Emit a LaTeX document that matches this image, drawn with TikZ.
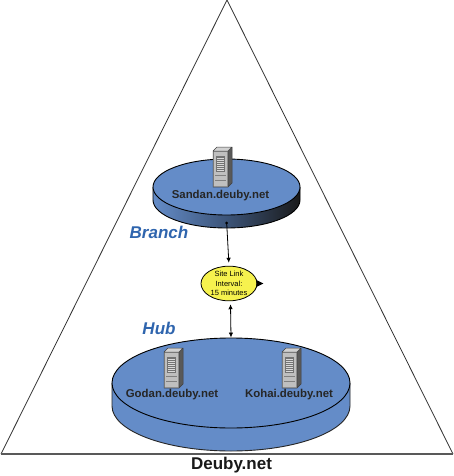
\documentclass[tikz,border=0pt]{standalone}
\usepackage{fontspec}
\setmainfont{Liberation Sans}
\usetikzlibrary{shapes.geometric,arrows.meta}
\definecolor{diskblue}{HTML}{648CC8}
\definecolor{labelblue}{HTML}{2F65AE}
\definecolor{linkyellow}{HTML}{F6F24E}
\tikzset{
  disktop/.style={ellipse,draw=black,line width=.9pt,fill=diskblue,inner sep=0pt},
  hostlabel/.style={font=\bfseries\fontsize{11.4}{12}\selectfont,text=black!85,inner sep=0pt},
  tierlabel/.style={font=\bfseries\itshape\fontsize{17}{18}\selectfont,text=labelblue,inner sep=0pt},
  link/.style={draw=black,line width=.8pt},
}
\newcommand{\serverbox}[2]{%
  \begin{scope}[shift={(#1,#2)}]
    \fill[black!65] (15,4) -- (19,0) -- (19,36) -- (15,40) -- cycle;
    \fill[black!18] (0,4) -- (4,0) -- (19,0) -- (15,4) -- cycle;
    \fill[black!40] (0,4) rectangle (15,40);
    \fill[black!25] (1,5) rectangle (14,39);
    \fill[black!55] (3,9) rectangle (12,25);
    \foreach \yy in {11,13,...,23} \draw[white!85!black,line width=.5pt] (4,\yy) -- (11,\yy);
    \draw[black!50,line width=.4pt] (2,28) -- (13,28) (2,33) -- (13,33);
    \draw[black!75,line width=.5pt] (0,4) -- (4,0) -- (19,0) -- (19,36) -- (15,40) -- (0,40) -- cycle (0,4) -- (15,4) -- (15,40) (15,4) -- (19,0);
  \end{scope}}
\begin{document}
\begin{tikzpicture}[x=1pt,y=-1pt]
\useasboundingbox (0,0) rectangle (454,476);
\fill[white] (0,0) rectangle (454,476);
\coordinate (apex) at (227,0);
\coordinate (bl) at (1,454);
\coordinate (br) at (453,454);
\draw[black!80,line width=.8pt] (bl) -- (apex) -- (br);
\draw[black!65,line width=1.2pt] (bl) -- (br);
% Branch disk
\shade[left color=diskblue,right color=black!90,middle color=black!40!diskblue]
  (153,187) -- (153,200) arc[start angle=180,end angle=0,x radius=73.5,y radius=28] -- (300,187) -- cycle;
\draw[black,line width=.9pt] (153,187) -- (153,200) arc[start angle=180,end angle=0,x radius=73.5,y radius=28] -- (300,187);
\node[disktop,minimum width=147pt,minimum height=56pt] (branch) at (226.5,187) {};
\coordinate (branchbottom) at (226.7,223);
% Hub disk
\fill[diskblue] (112,383) -- (112,406) arc[start angle=180,end angle=0,x radius=119,y radius=45] -- (350,383) -- cycle;
\draw[black!85,line width=.9pt] (112,383) -- (112,406) arc[start angle=180,end angle=0,x radius=119,y radius=45] -- (350,383);
\node[disktop,minimum width=238pt,minimum height=90pt] (hub) at (231,383) {};
% Link
\node[ellipse,draw=black,line width=.8pt,fill=linkyellow,minimum width=56pt,minimum height=33pt,inner sep=0pt,align=center,font=\fontsize{7.5}{9.5}\selectfont] (link) at (229,283.5) {Site Link\\Interval:\\15 minutes};
\fill[black] (branchbottom) circle (1.5);
\draw[link,shorten >=3pt,-{Latex[length=5pt,width=4.5pt]}] (branchbottom) -- (link.north);
\draw[link,{Latex[length=5pt,width=4.5pt]}-{Latex[length=5pt,width=4.5pt]}] ([shift={(1.5,3)}]link.south) -- (hub.north);
\fill[black] ([shift={(-1,-3.5)}]link.east) -- ++(7,3.5) -- ++(-7,3.5) -- cycle;
% Servers
\serverbox{213}{147}
\serverbox{164}{348}
\serverbox{282}{348}
% Labels
\node[hostlabel] (sandan) at (220.5,195.5) {Sandan.deuby.net};
\node[hostlabel] (godan) at (172,395) {Godan.deuby.net};
\node[hostlabel] (kohai) at (289,395) {Kohai.deuby.net};
\node[tierlabel] (branchlabel) at (159,232) {Branch};
\node[tierlabel] (hublabel) at (159,328) {Hub};
\node[font=\bfseries\fontsize{17}{18}\selectfont,text=black!90,inner sep=0pt] (domain) at (231.5,465) {Deuby.net};
\end{tikzpicture}
\end{document}
